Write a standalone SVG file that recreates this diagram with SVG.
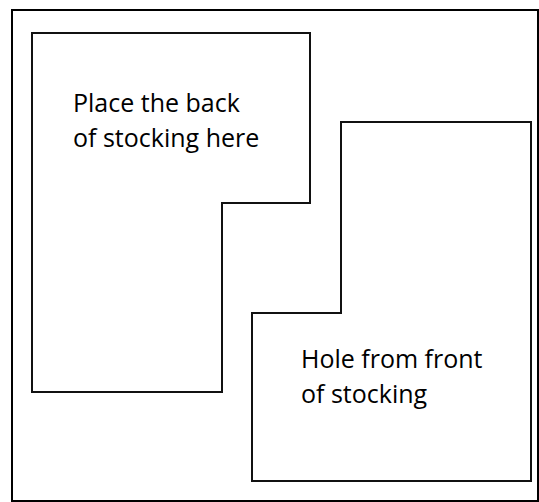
<svg xmlns="http://www.w3.org/2000/svg" width="539" height="502" viewBox="0 0 539 502">
<style>
.frame{fill:#fff;stroke:#000;stroke-width:2}
.shape{fill:none;stroke:#111;stroke-width:2;stroke-linejoin:miter}
.lbl{font-family:"Open Sans","Liberation Sans",sans-serif;font-size:25px;fill:#000}
</style>
<rect width="539" height="502" fill="#fff"/>
<rect class="frame" x="12" y="10" width="526" height="491"/>
<g id="back">
<polygon class="shape" points="32,33 310,33 310,203 222,203 222,392 32,392"/>
<text class="lbl" x="73" y="112">Place the back</text>
<text class="lbl" x="73" y="147">of stocking here</text>
</g>
<g id="hole">
<polygon class="shape" points="341,122 531,122 531,481 252,481 252,313 341,313"/>
<text class="lbl" x="301" y="368">Hole from front</text>
<text class="lbl" x="301" y="403">of stocking</text>
</g>
<g id="connectors"></g>
</svg>
